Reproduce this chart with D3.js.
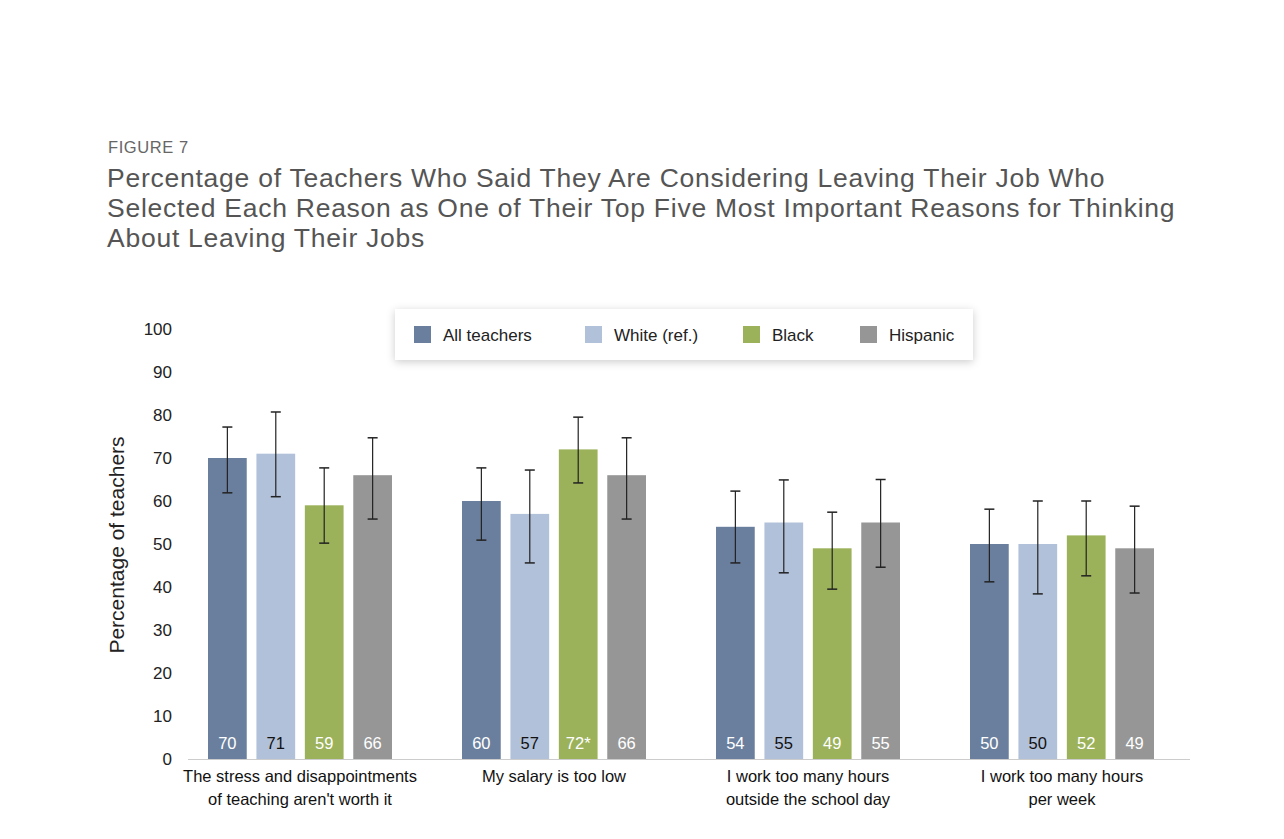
<!DOCTYPE html>
<html><head><meta charset="utf-8">
<script src="https://cdn.jsdelivr.net/npm/d3@7"></script>
<style>body{margin:0;background:#fff;font-family:"Helvetica Neue",Arial,"Liberation Sans",sans-serif;}</style>
</head><body><svg id="c" width="1284" height="839"></svg>
<script>
const categories = [["The stress and disappointments","of teaching aren't worth it"],["My salary is too low"],["I work too many hours","outside the school day"],["I work too many hours","per week"]];
const series = ["All teachers","White (ref.)","Black","Hispanic"];
const colors = ["#6a7f9e","#b1c1d9","#9bb25a","#969696"];
const labelColors = ["#fff","#111","#fff","#fff"];
const values = [[70,71,59,66],[60,57,72,66],[54,55,49,55],[50,50,52,49]];
const labels = [["70","71","59","66"],["60","57","72*","66"],["54","55","49","55"],["50","50","52","49"]];
const errLow = [[61.9,61,50.2,55.8],[50.9,45.6,64.2,55.8],[45.6,43.3,39.5,44.6],[41.2,38.4,42.6,38.6]];
const errHigh = [[77.2,80.7,67.7,74.7],[67.7,67.2,79.5,74.7],[62.3,64.9,57.4,65],[58.1,60,60,58.8]];
const yTicks = d3.range(0,101,10);

const svg = d3.select("#c");
svg.append("text").attr("x",108).attr("y",153).attr("fill","#666").attr("font-size",16.5).attr("letter-spacing",0.6).text("FIGURE 7");
["Percentage of Teachers Who Said They Are Considering Leaving Their Job Who",
 "Selected Each Reason as One of Their Top Five Most Important Reasons for Thinking",
 "About Leaving Their Jobs"].forEach((t,i)=>svg.append("text").attr("x",107).attr("y",187+i*30)
  .attr("fill","#555").attr("font-size",26.5).attr("letter-spacing",0.75).attr("font-weight",300).text(t));

const y = d3.scaleLinear().domain([0,100]).range([759,329]);
const x0 = d3.scaleBand().domain(d3.range(4)).range([171,1187]);
const x1 = d3.scaleBand().domain(d3.range(4)).range([0,184]).paddingInner(0.2).paddingOuter(0);
const off = (x0.bandwidth()-184)/2 + 2;

svg.append("g").selectAll("text").data(yTicks).join("text")
  .attr("x",172).attr("y",d=>y(d)+6).attr("text-anchor","end").attr("font-size",17).attr("fill","#222").text(d=>d);
svg.append("text").attr("transform","translate(124,545) rotate(-90)").attr("text-anchor","middle")
  .attr("font-size",21).attr("fill","#222").text("Percentage of teachers");
svg.append("line").attr("x1",188).attr("x2",1190).attr("y1",759.5).attr("y2",759.5).attr("stroke","#ccc");

const g = svg.append("g").selectAll("g").data(values).join("g")
  .attr("transform",(d,i)=>`translate(${x0(i)+off},0)`);
g.each(function(row,i){
  const s = d3.select(this);
  row.forEach((v,j)=>{
    const bx = x1(j), bw = x1.bandwidth(), cx = bx+bw/2;
    s.append("rect").attr("x",bx).attr("y",y(v)).attr("width",bw).attr("height",y(0)-y(v)).attr("fill",colors[j]);
    s.append("line").attr("x1",cx).attr("x2",cx).attr("y1",y(errHigh[i][j])).attr("y2",y(errLow[i][j])).attr("stroke","#222").attr("stroke-width",1.2);
    [errHigh[i][j],errLow[i][j]].forEach(e=>s.append("line").attr("x1",cx-5).attr("x2",cx+5).attr("y1",y(e)).attr("y2",y(e)).attr("stroke","#222").attr("stroke-width",1.5));
    s.append("text").attr("x",cx).attr("y",749).attr("text-anchor","middle").attr("font-size",16.5).attr("fill",labelColors[j]).text(labels[i][j]);
  });
});
svg.append("g").selectAll("text").data(categories).join("text")
  .attr("x",(d,i)=>x0(i)+x0.bandwidth()/2+2).attr("y",782).attr("text-anchor","middle").attr("font-size",16.5).attr("fill","#111")
  .each(function(d){ d.forEach((t,k)=>d3.select(this).append("tspan").attr("x",d3.select(this).attr("x")).attr("dy",k?23:0).text(t)); });

// legend
const defs = svg.append("defs");
const f = defs.append("filter").attr("id","sh").attr("x","-10%").attr("y","-40%").attr("width","120%").attr("height","180%");
f.append("feDropShadow").attr("dx",0).attr("dy",2).attr("stdDeviation",4).attr("flood-color","#000").attr("flood-opacity",0.2);
svg.append("rect").attr("x",395).attr("y",309).attr("width",578).attr("height",51).attr("fill","#fff").attr("filter","url(#sh)");
const lx = [414,585,743,860];
series.forEach((s,i)=>{
  svg.append("rect").attr("x",lx[i]).attr("y",326).attr("width",17).attr("height",17).attr("fill",colors[i]);
  svg.append("text").attr("x",lx[i]+29).attr("y",341).attr("font-size",17).attr("fill","#222").text(s);
});
</script></body></html>
